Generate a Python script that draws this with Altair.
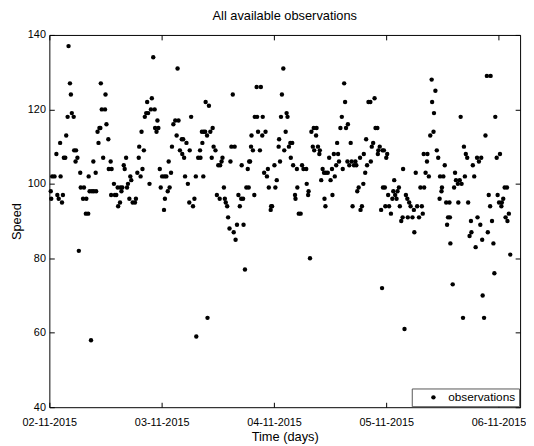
import altair as alt
import pandas as pd

TITLE = "All available observations"
X_TITLE = "Time (days)"
Y_TITLE = "Speed"
SERIES = "observations"

x_tick_hours = [0, 24, 48, 72, 96]
x_tick_labels = ["02-11-2015", "03-11-2015", "04-11-2015", "05-11-2015", "06-11-2015"]
y_ticks = [40, 60, 80, 100, 120, 140]
x_domain = [0, 100.6]
y_domain = [40, 140]

# (hours since 02-11-2015 00:00, speed)
seg1 = [(0.3,98),(0.4,96),(0.6,102),(1.1,102),(1.5,108),(1.7,97),(2.0,96),(2.3,111),(2.4,102),(2.7,95),
        (2.9,97),(3.1,107),(3.4,107),(3.6,113),(3.9,118),(4.1,137),(4.4,127),(4.6,124),(4.8,119),(5.2,118),
        (5.3,109),(5.7,109),(5.6,106),(6.0,107),(6.3,82),(6.6,103),(6.7,99),(7.4,99),(7.2,96),(7.9,96),
        (7.8,92),(8.3,92),(8.4,102),(8.6,98),(9.1,98),(9.5,98),(10.0,98),(8.9,58),(9.4,106),(9.9,103),
        (10.3,114),(10.5,111),(10.7,115),(10.9,115),(11.0,127),(11.2,120),(11.9,120),(11.5,107),(12.0,124),(12.2,116),
        (12.6,112),(12.7,104),(13.3,104),(13.1,106),(13.2,97),(14.0,97),(13.8,100)]
seg2 = [(14.3,97),(14.6,99),(15.2,99),(15.6,99),(14.7,94),(15.1,95),(15.4,98),(15.9,105),(16.1,104),(16.4,107),
        (16.6,99),(16.8,100),(17.1,96),(17.3,102),(17.5,101),(17.8,95),(18.3,95),(18.5,96),(18.8,103),(19.1,107),
        (19.2,110),(19.5,102),(19.7,114),(19.9,104),(20.2,109),(20.4,118),(20.7,119),(21.1,119),(20.9,122),(21.4,100),
        (21.7,120),(22.5,120),(21.9,123),(22.2,134),(22.6,115),(23.3,115),(22.9,114),(23.1,117),(23.6,104),(23.8,99),
        (24.1,102),(24.6,102),(25.0,102),(24.5,93),(24.7,96),(25.3,98),(25.5,106),(25.7,99),(26.0,103),(26.2,110),
        (26.5,116),(26.9,117),(27.6,117),(27.2,113),(27.4,131),(27.9,109),(28.3,112),(28.4,108)]
seg3 = [(28.6,112),(28.8,107),(29.0,102),(29.3,111),(29.6,100),(29.9,95),(30.0,109),(30.3,118),(30.7,94),(31.0,96),
        (31.3,102),(31.8,107),(32.3,107),(32.2,109),(32.6,114),(33.0,114),(33.3,114),(32.7,111),(32.9,102),(33.4,122),
        (33.7,113),(33.8,64),(34.1,121),(34.4,114),(34.7,107),(34.9,115),(35.1,110),(35.5,109),(31.4,59),(35.8,97),
        (36.1,105),(36.5,105),(36.4,96),(36.8,106),(37.0,107),(37.3,99),(37.5,96),(37.7,95),(38.0,94),(38.2,91),
        (38.5,88),(38.7,106),(38.9,110),(39.6,110),(39.2,124),(39.4,87),(39.8,85),(40.1,89),(40.4,97),(40.7,94),
        (41.0,96),(41.4,96),(41.1,105),(41.5,89),(41.8,77),(42.1,99),(42.6,99),(42.4,104),(42.7,106)]
seg4 = [(42.9,106),(43.1,110),(43.2,113),(43.5,109),(43.8,97),(43.9,118),(44.4,118),(44.3,126),(45.2,126),(44.6,114),
        (45.0,109),(45.5,113),(45.6,118),(45.9,103),(46.2,114),(46.5,102),(46.7,104),(46.9,99),(47.3,93),(47.4,94),
        (47.6,94),(48.1,105),(48.3,99),(48.6,101),(49.0,110),(49.1,112),(49.3,106),(49.5,118),(49.7,124),(50.0,131),
        (50.2,109),(50.5,114),(50.7,119),(50.9,118),(51.2,110),(51.5,111),(51.9,111),(51.6,107),(52.1,105),(52.5,97),
        (52.6,96),(52.9,104),(53.0,99),(53.3,92),(53.7,92),(54.0,105),(54.3,104),(54.9,104),(55.0,100),(55.3,97),
        (55.4,98),(55.7,80),(56.0,114),(56.3,110),(56.6,109),(56.5,115),(57.1,115),(57.0,113)]
seg5 = [(57.4,110),(57.7,108),(57.8,109),(58.1,101),(58.4,104),(58.7,103),(59.1,103),(59.5,103),(58.8,96),(59.0,94),
        (59.8,107),(60.1,101),(60.4,104),(60.5,97),(60.8,108),(61.7,108),(61.0,102),(61.3,105),(61.5,111),(61.9,106),
        (62.2,115),(62.5,118),(62.7,104),(63.0,127),(63.2,122),(63.4,115),(63.7,106),(63.8,116),(64.1,105),(64.4,111),
        (64.6,106),(64.8,94),(65.1,105),(65.4,106),(65.6,105),(65.8,98),(66.1,99),(66.4,107),(66.5,93),(66.8,94),
        (67.1,100),(67.2,108),(67.5,103),(67.7,112),(67.9,105),(68.2,122),(68.6,122),(68.7,106),(68.9,110),(69.2,111),
        (69.5,123),(69.7,115),(70.1,115),(70.2,108),(70.3,109),(70.6,110),(70.9,93),(71.1,72),(71.3,99),(71.2,109)]
seg6 = [(71.5,109),(71.7,99),(72.0,107),(72.2,108),(71.8,94),(72.4,97),(72.6,94),(73.0,92),(73.3,96),(73.5,98),
        (73.7,101),(73.9,97),(74.2,96),(74.4,98),(74.7,99),(74.9,94),(75.2,90),(75.5,91),(75.6,104),(75.9,61),
        (76.2,97),(76.5,96),(76.6,91),(76.9,95),(77.2,94),(77.6,91),(77.9,93),(78.0,87),(78.3,103),(78.6,94),
        (79.0,91),(79.3,99),(80.1,99),(79.6,94),(79.8,92),(80.0,108),(80.8,108),(80.4,103),(80.7,106),(81.1,102),
        (81.4,113),(81.7,128),(81.8,122),(82.1,114),(82.2,119),(82.5,125),(82.8,109),(83.1,107),(83.4,96),(83.5,102),
        (84.2,102),(83.8,98),(83.9,99),(84.5,105),(84.8,95),(85.0,89),(85.2,91),(85.6,91),(85.5,95),(85.7,84)]
seg7 = [(86.2,73),(86.5,99),(86.7,103),(86.9,101),(87.3,100),(87.4,95),(87.7,101),(87.9,118),(88.1,100),(88.4,64),
        (88.6,110),(88.8,102),(89.0,108),(89.3,107),(89.5,95),(89.8,86),(90.1,90),(90.2,87),(90.5,105),(90.8,102),
        (91.1,83),(91.4,107),(91.5,91),(91.8,106),(92.1,89),(92.3,107),(92.5,85),(92.6,70),(92.9,64),(93.2,113),
        (93.5,129),(94.3,129),(93.7,87),(93.9,97),(94.2,94),(94.6,90),(94.9,84),(95.1,76),(95.3,118),(95.6,107),
        (95.8,97),(96.1,95),(96.3,108),(96.6,94),(96.7,95),(97.0,96),(97.3,99),(97.8,99),(97.5,91),(97.9,90),
        (98.2,92),(98.5,81)]

obs = seg1 + seg2 + seg3 + seg4 + seg5 + seg6 + seg7
df = pd.DataFrame({
    "hours": [p[0] for p in obs],
    "speed": [p[1] for p in obs],
    "series": SERIES,
})

label_expr = "[" + ",".join("'%s'" % s for s in x_tick_labels) + "][round(datum.value / 24)]"

x_scale = alt.Scale(domain=x_domain, nice=False, zero=False)
y_scale = alt.Scale(domain=y_domain, nice=False, zero=False)

points = alt.Chart(df).mark_circle(size=20, opacity=1).encode(
    x=alt.X("hours:Q", scale=x_scale,
            axis=alt.Axis(values=x_tick_hours, labelExpr=label_expr, title=X_TITLE,
                          orient="bottom", offset=-5, tickSize=5, domain=False, grid=False,
                          labelPadding=10, titlePadding=3, labelFlush=False)),
    y=alt.Y("speed:Q", scale=y_scale,
            axis=alt.Axis(values=y_ticks, title=Y_TITLE, orient="left", offset=-5, tickSize=5,
                          domain=False, grid=False, labelPadding=4, titlePadding=4)),
    color=alt.Color("series:N", scale=alt.Scale(range=["black"]),
                    legend=alt.Legend(title=None, orient="bottom-right", offset=1,
                                      strokeColor="#555555", fillColor="white", padding=3,
                                      symbolType="circle", symbolSize=20, symbolOffset=13,
                                      labelOffset=9, labelFontSize=12, cornerRadius=0)),
)

frame_ticks = alt.Chart(df).mark_circle(size=20, opacity=0).encode(
    x=alt.X("hours:Q", scale=x_scale,
            axis=alt.Axis(values=x_tick_hours, labels=False, title=None, orient="top",
                          offset=-5, tickSize=5, domain=False, grid=False)),
    y=alt.Y("speed:Q", scale=y_scale,
            axis=alt.Axis(values=y_ticks, labels=False, title=None, orient="right",
                          offset=-5, tickSize=5, domain=False, grid=False)),
)

chart = alt.layer(points, frame_ticks).resolve_axis(
    x="independent", y="independent"
).properties(
    width=478, height=378,
    title=alt.TitleParams(TITLE, fontSize=13, fontWeight="normal", anchor="middle",
                          offset=6, color="black"),
    autosize="none",
    padding={"left": 42, "top": 24, "right": 6, "bottom": 34},
).configure(
    font="Liberation Sans",
).configure_view(
    stroke="black", strokeWidth=1,
).configure_axis(
    labelColor="black", tickColor="black", titleColor="black",
    labelFontSize=11, titleFontSize=13, titleFontWeight="normal",
).configure_legend(
    labelColor="black",
)

chart.save("out.html", embed_options={"renderer": "svg", "actions": False})
